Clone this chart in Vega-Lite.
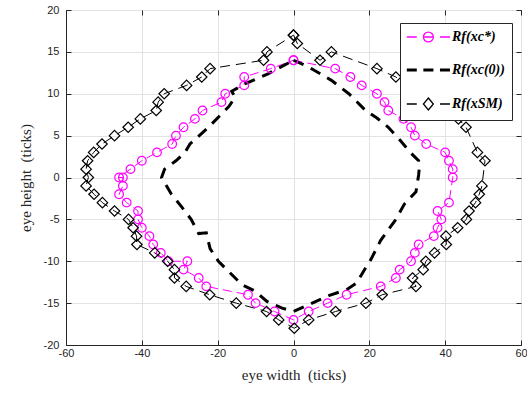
{
  "$schema": "https://vega.github.io/schema/vega-lite/v6.json",
  "width": 455,
  "height": 335,
  "autosize": "none",
  "padding": {"left": 66, "top": 10, "right": 6, "bottom": 57},
  "background": "white",
  "datasets": {
    "pts": [
      {"s":"Rf(xc*)","o":1,"x":0,"y":14},{"s":"Rf(xc*)","o":2,"x":11,"y":13},{"s":"Rf(xc*)","o":3,"x":15,"y":12},{"s":"Rf(xc*)","o":4,"x":18,"y":11},{"s":"Rf(xc*)","o":5,"x":22,"y":10},{"s":"Rf(xc*)","o":6,"x":24,"y":9},{"s":"Rf(xc*)","o":7,"x":25,"y":8},{"s":"Rf(xc*)","o":8,"x":29,"y":7},{"s":"Rf(xc*)","o":9,"x":31,"y":6},{"s":"Rf(xc*)","o":10,"x":32,"y":5},{"s":"Rf(xc*)","o":11,"x":35,"y":4},{"s":"Rf(xc*)","o":12,"x":40,"y":3},{"s":"Rf(xc*)","o":13,"x":41,"y":2},{"s":"Rf(xc*)","o":14,"x":42,"y":1},{"s":"Rf(xc*)","o":15,"x":42,"y":0},{"s":"Rf(xc*)","o":16,"x":41,"y":-3},{"s":"Rf(xc*)","o":17,"x":38,"y":-4},{"s":"Rf(xc*)","o":18,"x":39,"y":-5},{"s":"Rf(xc*)","o":19,"x":38,"y":-6},{"s":"Rf(xc*)","o":20,"x":37,"y":-7},{"s":"Rf(xc*)","o":21,"x":33,"y":-8},{"s":"Rf(xc*)","o":22,"x":32,"y":-9},{"s":"Rf(xc*)","o":23,"x":31,"y":-10},{"s":"Rf(xc*)","o":24,"x":28,"y":-11},{"s":"Rf(xc*)","o":25,"x":27,"y":-12},{"s":"Rf(xc*)","o":26,"x":23,"y":-13},{"s":"Rf(xc*)","o":27,"x":14,"y":-14},{"s":"Rf(xc*)","o":28,"x":9,"y":-15},{"s":"Rf(xc*)","o":29,"x":4,"y":-16},{"s":"Rf(xc*)","o":30,"x":0,"y":-17},{"s":"Rf(xc*)","o":31,"x":-5,"y":-16},{"s":"Rf(xc*)","o":32,"x":-10,"y":-15},{"s":"Rf(xc*)","o":33,"x":-12,"y":-14},{"s":"Rf(xc*)","o":34,"x":-23,"y":-13},{"s":"Rf(xc*)","o":35,"x":-25,"y":-12},{"s":"Rf(xc*)","o":36,"x":-29,"y":-11},{"s":"Rf(xc*)","o":37,"x":-28,"y":-10},{"s":"Rf(xc*)","o":38,"x":-33,"y":-10},{"s":"Rf(xc*)","o":39,"x":-35,"y":-9},{"s":"Rf(xc*)","o":40,"x":-37,"y":-8},{"s":"Rf(xc*)","o":41,"x":-38,"y":-7},{"s":"Rf(xc*)","o":42,"x":-40,"y":-6},{"s":"Rf(xc*)","o":43,"x":-41,"y":-5},{"s":"Rf(xc*)","o":44,"x":-41,"y":-4},{"s":"Rf(xc*)","o":45,"x":-44,"y":-3},{"s":"Rf(xc*)","o":46,"x":-46,"y":-2},{"s":"Rf(xc*)","o":47,"x":-45,"y":-1},{"s":"Rf(xc*)","o":48,"x":-45,"y":0},{"s":"Rf(xc*)","o":49,"x":-46,"y":0},{"s":"Rf(xc*)","o":50,"x":-43,"y":1},{"s":"Rf(xc*)","o":51,"x":-40,"y":2},{"s":"Rf(xc*)","o":52,"x":-36,"y":3},{"s":"Rf(xc*)","o":53,"x":-32,"y":4},{"s":"Rf(xc*)","o":54,"x":-31,"y":5},{"s":"Rf(xc*)","o":55,"x":-29,"y":6},{"s":"Rf(xc*)","o":56,"x":-26,"y":7},{"s":"Rf(xc*)","o":57,"x":-24,"y":8},{"s":"Rf(xc*)","o":58,"x":-19,"y":9},{"s":"Rf(xc*)","o":59,"x":-18,"y":10},{"s":"Rf(xc*)","o":60,"x":-13,"y":11},{"s":"Rf(xc*)","o":61,"x":-13,"y":12},{"s":"Rf(xc*)","o":62,"x":-6,"y":13},{"s":"Rf(xc*)","o":63,"x":0,"y":14},

      {"s":"Rf(xc(0))","o":1,"x":0,"y":14},{"s":"Rf(xc(0))","o":2,"x":4,"y":13.2},{"s":"Rf(xc(0))","o":3,"x":10,"y":11.6},{"s":"Rf(xc(0))","o":4,"x":14.6,"y":10},{"s":"Rf(xc(0))","o":5,"x":19,"y":8},{"s":"Rf(xc(0))","o":6,"x":22,"y":7.1},{"s":"Rf(xc(0))","o":7,"x":25,"y":6},{"s":"Rf(xc(0))","o":8,"x":28,"y":4.5},{"s":"Rf(xc(0))","o":9,"x":31,"y":2.9},{"s":"Rf(xc(0))","o":10,"x":33,"y":2},{"s":"Rf(xc(0))","o":11,"x":33.2,"y":1.3},{"s":"Rf(xc(0))","o":12,"x":33,"y":0.3},{"s":"Rf(xc(0))","o":13,"x":32.3,"y":-1.7},{"s":"Rf(xc(0))","o":14,"x":29.2,"y":-3.2},{"s":"Rf(xc(0))","o":15,"x":27,"y":-5},{"s":"Rf(xc(0))","o":16,"x":23,"y":-7.5},{"s":"Rf(xc(0))","o":17,"x":20.4,"y":-9.8},{"s":"Rf(xc(0))","o":18,"x":19,"y":-10.8},{"s":"Rf(xc(0))","o":19,"x":16.6,"y":-12.6},{"s":"Rf(xc(0))","o":20,"x":14,"y":-13.4},{"s":"Rf(xc(0))","o":21,"x":9.3,"y":-14.1},{"s":"Rf(xc(0))","o":22,"x":4,"y":-15.2},{"s":"Rf(xc(0))","o":23,"x":0,"y":-16},{"s":"Rf(xc(0))","o":24,"x":-3,"y":-15.6},{"s":"Rf(xc(0))","o":25,"x":-7,"y":-14.8},{"s":"Rf(xc(0))","o":26,"x":-10,"y":-13.6},{"s":"Rf(xc(0))","o":27,"x":-13.6,"y":-12.8},{"s":"Rf(xc(0))","o":28,"x":-16.7,"y":-11.4},{"s":"Rf(xc(0))","o":29,"x":-19.8,"y":-10},{"s":"Rf(xc(0))","o":30,"x":-22,"y":-8.5},{"s":"Rf(xc(0))","o":31,"x":-23,"y":-6.6},{"s":"Rf(xc(0))","o":32,"x":-25,"y":-6.7},{"s":"Rf(xc(0))","o":33,"x":-27,"y":-5},{"s":"Rf(xc(0))","o":34,"x":-29.5,"y":-3.5},{"s":"Rf(xc(0))","o":35,"x":-32.2,"y":-2},{"s":"Rf(xc(0))","o":36,"x":-34.8,"y":0},{"s":"Rf(xc(0))","o":37,"x":-34,"y":1},{"s":"Rf(xc(0))","o":38,"x":-31,"y":2},{"s":"Rf(xc(0))","o":39,"x":-28.6,"y":3},{"s":"Rf(xc(0))","o":40,"x":-27.3,"y":4},{"s":"Rf(xc(0))","o":41,"x":-22.4,"y":6},{"s":"Rf(xc(0))","o":42,"x":-17,"y":8.5},{"s":"Rf(xc(0))","o":43,"x":-15.4,"y":9.6},{"s":"Rf(xc(0))","o":44,"x":-16.3,"y":10.3},{"s":"Rf(xc(0))","o":45,"x":-12.7,"y":11.2},{"s":"Rf(xc(0))","o":46,"x":-6.6,"y":12.4},{"s":"Rf(xc(0))","o":47,"x":0,"y":14},

      {"s":"Rf(xSM)","o":1,"x":0,"y":17},{"s":"Rf(xSM)","o":2,"x":1,"y":16},{"s":"Rf(xSM)","o":3,"x":7,"y":14},{"s":"Rf(xSM)","o":4,"x":10,"y":15},{"s":"Rf(xSM)","o":5,"x":22,"y":13},{"s":"Rf(xSM)","o":6,"x":27,"y":12},{"s":"Rf(xSM)","o":7,"x":30,"y":11},{"s":"Rf(xSM)","o":8,"x":34,"y":10},{"s":"Rf(xSM)","o":9,"x":38,"y":9},{"s":"Rf(xSM)","o":10,"x":41,"y":8},{"s":"Rf(xSM)","o":11,"x":43.5,"y":7},{"s":"Rf(xSM)","o":12,"x":45.5,"y":6},{"s":"Rf(xSM)","o":13,"x":48.5,"y":3},{"s":"Rf(xSM)","o":14,"x":50.5,"y":2},{"s":"Rf(xSM)","o":15,"x":49.7,"y":-1},{"s":"Rf(xSM)","o":16,"x":49,"y":-2},{"s":"Rf(xSM)","o":17,"x":48,"y":-3},{"s":"Rf(xSM)","o":18,"x":46.3,"y":-4},{"s":"Rf(xSM)","o":19,"x":45.6,"y":-5},{"s":"Rf(xSM)","o":20,"x":43.3,"y":-6},{"s":"Rf(xSM)","o":21,"x":40.2,"y":-7},{"s":"Rf(xSM)","o":22,"x":40.3,"y":-8},{"s":"Rf(xSM)","o":23,"x":37.2,"y":-9},{"s":"Rf(xSM)","o":24,"x":34.9,"y":-10},{"s":"Rf(xSM)","o":25,"x":34.2,"y":-11},{"s":"Rf(xSM)","o":26,"x":31.4,"y":-12},{"s":"Rf(xSM)","o":27,"x":32.3,"y":-13},{"s":"Rf(xSM)","o":28,"x":23.4,"y":-14},{"s":"Rf(xSM)","o":29,"x":19.1,"y":-15},{"s":"Rf(xSM)","o":30,"x":11.1,"y":-16},{"s":"Rf(xSM)","o":31,"x":4,"y":-17},{"s":"Rf(xSM)","o":32,"x":0.2,"y":-18},{"s":"Rf(xSM)","o":33,"x":-3.9,"y":-17},{"s":"Rf(xSM)","o":34,"x":-7.1,"y":-16},{"s":"Rf(xSM)","o":35,"x":-15.1,"y":-15},{"s":"Rf(xSM)","o":36,"x":-22.1,"y":-14},{"s":"Rf(xSM)","o":37,"x":-28.3,"y":-13},{"s":"Rf(xSM)","o":38,"x":-31.4,"y":-12},{"s":"Rf(xSM)","o":39,"x":-31.4,"y":-11},{"s":"Rf(xSM)","o":40,"x":-33.2,"y":-10},{"s":"Rf(xSM)","o":41,"x":-36.6,"y":-9},{"s":"Rf(xSM)","o":42,"x":-41.3,"y":-8},{"s":"Rf(xSM)","o":43,"x":-41.4,"y":-7},{"s":"Rf(xSM)","o":44,"x":-42.3,"y":-6},{"s":"Rf(xSM)","o":45,"x":-43.5,"y":-5},{"s":"Rf(xSM)","o":46,"x":-47.2,"y":-4},{"s":"Rf(xSM)","o":47,"x":-50.4,"y":-3},{"s":"Rf(xSM)","o":48,"x":-52.6,"y":-2},{"s":"Rf(xSM)","o":49,"x":-54.7,"y":-1},{"s":"Rf(xSM)","o":50,"x":-54.1,"y":0},{"s":"Rf(xSM)","o":51,"x":-54.7,"y":1},{"s":"Rf(xSM)","o":52,"x":-54.3,"y":2},{"s":"Rf(xSM)","o":53,"x":-52.7,"y":3},{"s":"Rf(xSM)","o":54,"x":-50.5,"y":4},{"s":"Rf(xSM)","o":55,"x":-47.2,"y":5},{"s":"Rf(xSM)","o":56,"x":-43.6,"y":6},{"s":"Rf(xSM)","o":57,"x":-40.4,"y":7},{"s":"Rf(xSM)","o":58,"x":-36.2,"y":8},{"s":"Rf(xSM)","o":59,"x":-35.7,"y":9},{"s":"Rf(xSM)","o":60,"x":-34.1,"y":10},{"s":"Rf(xSM)","o":61,"x":-28.2,"y":11},{"s":"Rf(xSM)","o":62,"x":-24.2,"y":12},{"s":"Rf(xSM)","o":63,"x":-22,"y":13},{"s":"Rf(xSM)","o":64,"x":-7.9,"y":14},{"s":"Rf(xSM)","o":65,"x":-7,"y":15},{"s":"Rf(xSM)","o":66,"x":0,"y":17}
    ]
  },
  "data": {"name": "pts"},
  "resolve": {"axis": {"x": "independent", "y": "independent"}},
  "layer": [
    {
      "transform": [{"filter": "datum.s === 'Rf(xc*)'"}],
      "mark": {"type": "line", "strokeWidth": 1, "strokeDash": [9, 5], "clip": true},
      "encoding": {
        "x": {"field": "x", "type": "quantitative", "scale": {"domain": [-60, 60], "nice": false, "zero": false, "padding": 0},
              "axis": {"orient": "bottom", "values": [-60, -40, -20, 0, 20, 40, 60], "title": "eye width\u00a0 (ticks)", "tickSize": -5, "labelPadding": 7, "titlePadding": 9, "labelFlush": false, "labelExpr": "replace(datum.label, '\u2212', '-')"}},
        "y": {"field": "y", "type": "quantitative", "scale": {"domain": [-20, 20], "nice": false, "zero": false, "padding": 0},
              "axis": {"orient": "left", "values": [-20, -15, -10, -5, 0, 5, 10, 15, 20], "title": "eye height\u00a0 (ticks)", "tickSize": -5, "labelPadding": 12, "titlePadding": 10, "labelFlush": false, "labelExpr": "replace(datum.label, '\u2212', '-')"}},
        "order": {"field": "o", "type": "quantitative"},
        "color": {"field": "s", "type": "nominal",
                  "scale": {"domain": ["Rf(xc*)", "Rf(xc(0))", "Rf(xSM)"], "range": ["#ff00ff", "#000000", "#000000"]},
                  "legend": {"orient": "none", "legendX": 334, "legendY": 13, "title": null,
                             "symbolSize": 207, "labelOffset": 31, "rowPadding": 18, "padding": 7,
                             "strokeColor": "#262626", "fillColor": "white",
                             "labelFont": "Liberation Serif", "labelFontSize": 14, "labelFontStyle": "italic", "labelFontWeight": "bold", "labelColor": "#000000",
                             "encode": {"symbols": {"update": {
                               "shape": {"signal": "datum.index === 0 ? 'M-1,0H0.39M2.69,0A0.69,0.69 0 1,1 1.31,0A0.69,0.69 0 1,1 2.69,0M1.4,0H2.6M3.61,0H5' : datum.index === 1 ? 'M-1,0H0.39M1.3,0H2.7M3.61,0H5' : 'M-1,0H0.39M2,-0.83L2.69,0L2,0.83L1.31,0ZM3.61,0H5'"},
                               "strokeWidth": {"signal": "datum.index === 1 ? 3 : 1.3"},
                               "fill": {"value": "transparent"},
                               "strokeDash": {"value": []},
                               "size": {"value": 207}
                             }}}}}
      }
    },
    {
      "transform": [{"filter": "datum.s === 'Rf(xc(0))'"}],
      "mark": {"type": "line", "strokeWidth": 3, "strokeDash": [11, 8], "clip": true},
      "encoding": {
        "x": {"field": "x", "type": "quantitative", "axis": {"orient": "top", "values": [-60, -40, -20, 0, 20, 40, 60], "labels": false, "title": null, "grid": false, "tickSize": -5, "domain": false}},
        "y": {"field": "y", "type": "quantitative", "axis": {"orient": "right", "values": [-20, -15, -10, -5, 0, 5, 10, 15, 20], "labels": false, "title": null, "grid": false, "tickSize": -5, "domain": false}},
        "order": {"field": "o", "type": "quantitative"},
        "color": {"field": "s", "type": "nominal"}
      }
    },
    {
      "transform": [{"filter": "datum.s === 'Rf(xSM)'"}],
      "mark": {"type": "line", "strokeWidth": 1, "strokeDash": [10, 6], "clip": true},
      "encoding": {
        "x": {"field": "x", "type": "quantitative", "axis": null},
        "y": {"field": "y", "type": "quantitative", "axis": null},
        "order": {"field": "o", "type": "quantitative"},
        "color": {"field": "s", "type": "nominal"}
      }
    },
    {
      "transform": [{"filter": "datum.s === 'Rf(xc*)'"}],
      "mark": {"type": "point", "shape": "circle", "filled": false, "size": 75, "strokeWidth": 1.2, "color": "#ff00ff", "opacity": 1},
      "encoding": {
        "x": {"field": "x", "type": "quantitative", "axis": null},
        "y": {"field": "y", "type": "quantitative", "axis": null}
      }
    },
    {
      "transform": [{"filter": "datum.s === 'Rf(xSM)'"}],
      "mark": {"type": "point", "shape": "diamond", "filled": false, "size": 110, "strokeWidth": 1.2, "color": "#000000", "opacity": 1},
      "encoding": {
        "x": {"field": "x", "type": "quantitative", "axis": null},
        "y": {"field": "y", "type": "quantitative", "axis": null}
      }
    }
  ],
  "config": {
    "view": {"stroke": "#262626", "strokeWidth": 1},
    "axis": {"grid": true, "gridColor": "#e3e3e3", "gridWidth": 1, "domainColor": "#262626", "tickColor": "#262626",
             "labelColor": "#262626", "labelFont": "Liberation Sans", "labelFontSize": 11,
             "titleFont": "Liberation Serif", "titleFontSize": 15, "titleFontWeight": "normal", "titleColor": "#262626"}
  }
}
